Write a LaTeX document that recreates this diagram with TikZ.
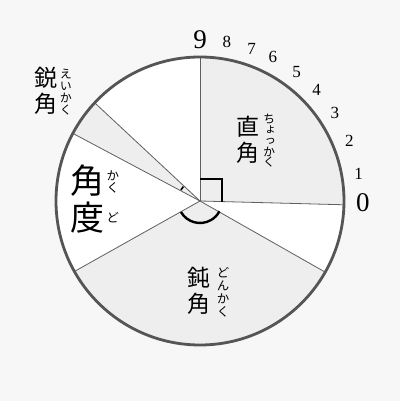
\documentclass[tikz,border=0pt]{standalone}
\usepackage{fontspec}
\setmainfont{Liberation Serif}
\newfontfamily\jpfont{Noto Sans CJK JP}
\newfontfamily\rubyfont[RawFeature=+vert]{Noto Sans CJK JP}
\usetikzlibrary{positioning}
\definecolor{paper}{RGB}{247,247,247}
\definecolor{sectorgray}{RGB}{238,238,238}
\definecolor{rimgray}{RGB}{85,85,85}
\definecolor{spokegray}{RGB}{95,95,95}

\begin{document}
\begin{tikzpicture}[x=1pt, y=1pt,
  spoke/.style={draw=spokegray, line width=0.8pt},
  anglemark/.style={draw=black, line width=2pt},
  kanji/.style={font=\jpfont\fontsize{23}{26}\selectfont, align=center, inner sep=0pt},
  bigkanji/.style={font=\jpfont\fontsize{34}{37}\selectfont, align=center, inner sep=0pt},
  ruby/.style={font=\rubyfont\fontsize{12.5}{12.5}\selectfont, align=center, inner sep=0pt},
  tick/.style={font=\fontsize{17}{17}\selectfont, inner sep=0pt},
  bigtick/.style={font=\fontsize{27}{27}\selectfont, inner sep=0pt}]
  \fill[paper] (-200,-200) rectangle (200,201);
  \coordinate (O) at (0,0);
  % disc and shaded sectors
  \fill[white] (O) circle (144);
  \fill[sectorgray] (O) -- (-1.5:144) arc[start angle=-1.5, end angle=90, radius=144] -- cycle;
  \fill[sectorgray] (O) -- (137:144) arc[start angle=137, end angle=152, radius=144] -- cycle;
  \fill[sectorgray] (O) -- (209.3:144) arc[start angle=209.3, end angle=330.4, radius=144] -- cycle;
  % spokes
  \foreach \ang in {-1.5, 90, 137, 152, 209.3, 330.4}
    \draw[spoke] (O) -- (\ang:144);
  \draw[rimgray, line width=2.8pt] (O) circle (144);
  % angle marks
  \draw[anglemark] (0,22) -- (22,22) -- (22,-0.6);
  \draw[anglemark, line width=2.4pt] (210:22) arc[start angle=210, end angle=332, radius=22];
  \draw[anglemark, line width=1.6pt] (139:22) arc[start angle=139, end angle=150, radius=22];
  % scale numbers
  \foreach \num/\ang in {1/9.6, 2/22, 3/33.1, 4/43.6, 5/53.1, 6/63.1, 7/71.3, 8/80.4}
    \node[tick] (t\num) at (\ang:161) {\num};
  \node[bigtick] (t0) at (-0.5:163) {0};
  \node[bigtick] (t9) at (90:161.5) {9};
  % labels
  \node[kanji] (choku) at (48,61) {直\\角};
  \node[ruby, font=\rubyfont\fontsize{12}{10.8}\selectfont] (chokuR) at (69,60) {ち\\ょ\\っ\\か\\く};
  \node[kanji] (ei) at (-154,110.5) {鋭\\角};
  \node[ruby, font=\rubyfont\fontsize{12}{12}\selectfont] (eiR) at (-134,108.5) {え\\い\\か\\く};
  \node[bigkanji] (kakudo) at (-112,1.5) {角\\度};
  \node[ruby] (kakuR) at (-87,19) {か\\く};
  \node[ruby] (doR) at (-87,-17) {ど};
  \node[kanji] (don) at (-1.5,-90) {鈍\\角};
  \node[ruby, font=\rubyfont\fontsize{12.5}{13}\selectfont] (donR) at (23,-91) {ど\\ん\\か\\く};
\end{tikzpicture}
\end{document}
